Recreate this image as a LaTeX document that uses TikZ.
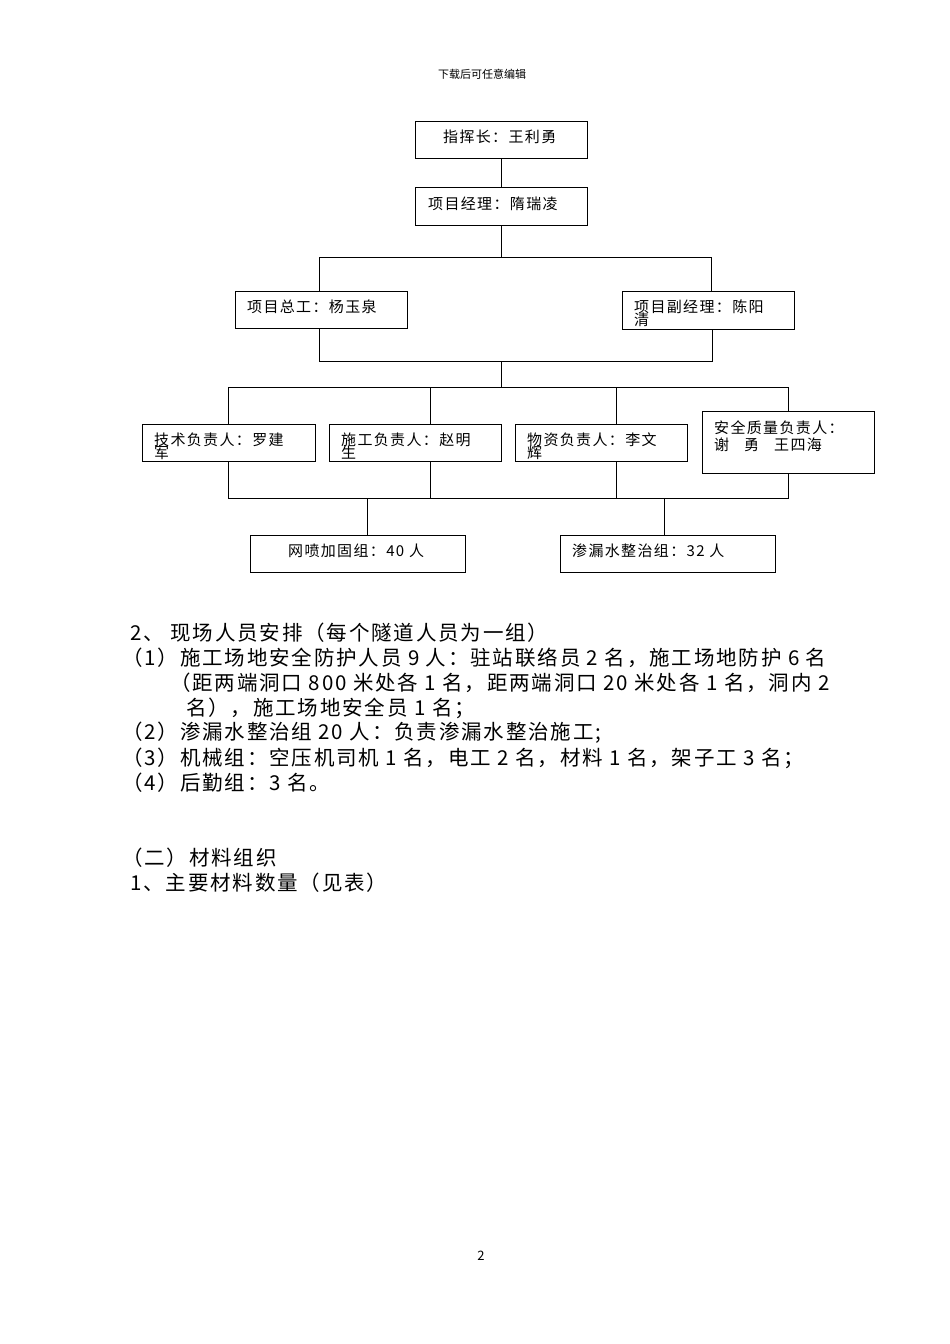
\documentclass[tikz,border=0pt]{standalone}
\usepackage{fontspec}
\setmainfont{Noto Sans CJK SC}
\newfontfamily\spc[LetterSpace=9]{Noto Sans CJK SC}
\begin{document}
\begin{tikzpicture}[x=1pt,y=-1pt,
 bx/.style={draw,line width=0.8pt,anchor=north west,inner sep=0pt},
 bt/.style={anchor=north west,font=\spc\fontsize{15}{16}\selectfont,align=left,inner sep=0pt},
 ln/.style={line width=0.8pt},
 body/.style={anchor=west,font=\spc\fontsize{20.5}{22}\selectfont,inner sep=0pt}]
\useasboundingbox (0,0) rectangle (950,1344);
\node[anchor=center,font=\fontsize{11}{13}\selectfont] (hdr) at (482,74) {下载后可任意编辑};
\node[anchor=center,font=\fontsize{13}{15}\selectfont] (pg) at (481,1256) {2};
% boxes
\draw[ln] (415,121) rectangle (587,158); \node[bt] (a) at (443,130) {指挥长：王利勇};
\draw[ln] (415,187) rectangle (587,225); \node[bt] (b) at (428,197) {项目经理：隋瑞凌};
\draw[ln] (235,291) rectangle (407,328); \node[bt] (c) at (247,300) {项目总工：杨玉泉};
\draw[ln] (622,291) rectangle (794,329); \node[bt] (d) at (634,300) {项目副经理：陈阳\\[-3pt]清};
\draw[ln] (142,424) rectangle (315,461); \node[bt] (e) at (154,433) {技术负责人：罗建\\[-3pt]军};
\draw[ln] (329,424) rectangle (501,461); \node[bt] (f) at (341,433) {施工负责人：赵明\\[-3pt]生};
\draw[ln] (515,424) rectangle (687,461); \node[bt] (g) at (527,433) {物资负责人：李文\\[-3pt]辉};
\draw[ln] (702,411) rectangle (874,473); \node[bt] (h) at (714,421) {安全质量负责人：\\[1pt]谢\quad 勇\quad 王四海};
\draw[ln] (250,535) rectangle (465,572); \node[bt] (i) at (288,544) {网喷加固组：40 人};
\draw[ln] (560,535) rectangle (775,572); \node[bt] (j) at (572,544) {渗漏水整治组：32 人};
% connectors
\draw[ln] (501,158) -- (501,187);
\draw[ln] (501,225) -- (501,257) (319,291) -- (319,257) -- (711,257) -- (711,291);
\draw[ln] (319,328) -- (319,361) -- (712,361) -- (712,329);
\draw[ln] (501,361) -- (501,387) (228,424) -- (228,387) -- (788,387) -- (788,411);
\draw[ln] (430,387) -- (430,424) (616,387) -- (616,424);
\draw[ln] (228,461) -- (228,498) -- (788,498) -- (788,473);
\draw[ln] (430,461) -- (430,498) (616,461) -- (616,498);
\draw[ln] (367,498) -- (367,535) (664,498) -- (664,535);
% body
\node[body] (t1) at (130,633) {2、\ 现场人员安排（每个隧道人员为一组）};
\node[body] (t2) at (122,658) {（1）施工场地安全防护人员 9 人：驻站联络员 2 名，施工场地防护 6 名};
\node[body] (t3) at (170,683) {（距两端洞口 800 米处各 1 名，距两端洞口 20 米处各 1 名，洞内 2};
\node[body] (t4) at (186,708) {名），施工场地安全员 1 名；};
\node[body] (t5) at (122,733) {（2）渗漏水整治组 20 人：负责渗漏水整治施工;};
\node[body] (t6) at (122,758) {（3）机械组：空压机司机 1 名，电工 2 名，材料 1 名，架子工 3 名；};
\node[body] (t7) at (122,783) {（4）后勤组：3 名。};
\node[body] (t8) at (122,858) {（二）材料组织};
\node[body] (t9) at (130,883) {1、主要材料数量（见表）};
\end{tikzpicture}
\end{document}
